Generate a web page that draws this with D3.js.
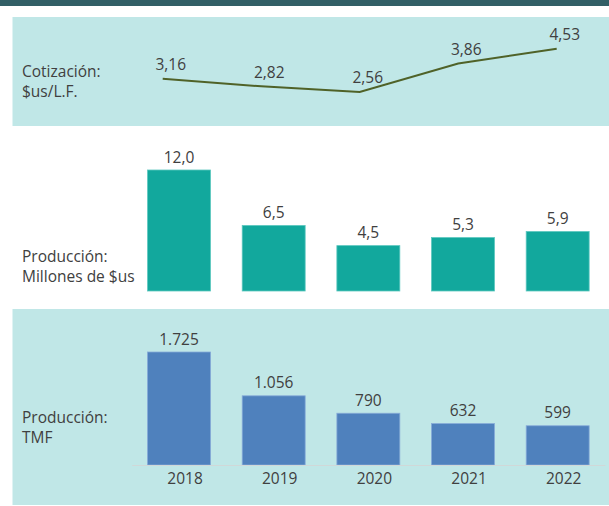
<!DOCTYPE html>
<html>
<head>
<meta charset="utf-8">
<script src="https://cdn.jsdelivr.net/npm/d3@7"></script>
<style>
    html, body { margin: 0; padding: 0; background: #fff; }
    svg { display: block; }
</style>
</head>
<body>
<svg id="vis" width="609" height="506" viewBox="0 0 609 506"></svg>
<script>
const years = ["2018", "2019", "2020", "2021", "2022"];
const cotizacion = [3.16, 2.82, 2.56, 3.86, 4.53];      // $us/L.F.
const produccionUsd = [12.0, 6.5, 4.5, 5.3, 5.9];       // Millones de $us
const produccionTmf = [1725, 1056, 790, 632, 599];      // TMF

(function () {
    const svg = d3.select("#vis");
    const W = 609, H = 506;
    const FONT = "'Open Sans', 'Noto Sans', sans-serif";
    const TEXT = "#404040";
    const PANEL = "#c0e7e7";

    const es = d3.formatLocale({ decimal: ",", thousands: ".", grouping: [3], currency: ["$", ""] });
    const f2 = es.format(".2f"), f1 = es.format(".1f"), f0 = es.format(",.0f");

    // === Backgrounds ===
    svg.append("rect").attr("x", 0).attr("y", 0).attr("width", W).attr("height", 6).attr("fill", "#325f66");
    svg.append("rect").attr("x", 12.5).attr("y", 17).attr("width", W - 12.5).attr("height", 109).attr("fill", PANEL);
    svg.append("rect").attr("x", 12.5).attr("y", 309).attr("width", W - 12.5).attr("height", 196).attr("fill", PANEL);

    function sideLabel(lines, y0) {
        const t = svg.append("text")
            .attr("x", 22)
            .attr("y", y0)
            .style("font", `15.5px ${FONT}`)
            .attr("fill", TEXT);
        lines.forEach((s, i) => t.append("tspan").attr("x", 22).attr("dy", i ? 20 : 0).text(s));
    }

    // === Cotización line ===
    const xp = d3.scalePoint().domain(years).range([162.7, 556.7]);
    const yl = d3.scaleLinear().domain([2, 5]).range([104.3, 38.4]);

    const lineData = years.map((yr, i) => ({ yr, v: cotizacion[i] }));
    svg.append("path")
        .datum(lineData)
        .attr("fill", "none")
        .attr("stroke", "#4f6228")
        .attr("stroke-width", 2)
        .attr("d", d3.line().x(d => xp(d.yr)).y(d => yl(d.v)));

    svg.append("g").selectAll("text").data(lineData).join("text")
        .attr("x", d => xp(d.yr) + 8)
        .attr("y", d => yl(d.v) - 8.5)
        .attr("text-anchor", "middle")
        .style("font", `15.5px ${FONT}`)
        .attr("fill", TEXT)
        .text(d => f2(d.v));

    sideLabel(["Cotización:", "$us/L.F."], 77);

    // === Bar charts share the band scale ===
    const xb = d3.scaleBand().domain(years).range([131.7, 605]).paddingInner(0.335).paddingOuter(0.1675);

    function bars(values, y, fill, stroke, fmt) {
        const data = years.map((yr, i) => ({ yr, v: values[i] }));
        const g = svg.append("g");
        g.selectAll("rect").data(data).join("rect")
            .attr("x", d => xb(d.yr))
            .attr("y", d => y(d.v))
            .attr("width", xb.bandwidth())
            .attr("height", d => y(0) - y(d.v))
            .attr("fill", fill)
            .attr("stroke", stroke)
            .attr("stroke-width", 0.8);
        g.selectAll("text").data(data).join("text")
            .attr("x", d => xb(d.yr) + xb.bandwidth() / 2)
            .attr("y", d => y(d.v) - 7.5)
            .attr("text-anchor", "middle")
            .style("font", `15.5px ${FONT}`)
            .attr("fill", TEXT)
            .text(d => fmt(d.v));
    }

    const yUsd = d3.scaleLinear().domain([0, 12]).range([291, 170]);
    bars(produccionUsd, yUsd, "#12a89d", "#5cc7bf", f1);
    sideLabel(["Producción:", "Millones de $us"], 261.7);

    const yTmf = d3.scaleLinear().domain([0, 1725]).range([465, 352]);
    bars(produccionTmf, yTmf, "#4f81bd", "#86aad8", f0);
    sideLabel(["Producción:", "TMF"], 423);

    // === Year axis ===
    const axis = svg.append("g")
        .attr("transform", `translate(0,${yTmf(0)})`)
        .call(d3.axisBottom(xb).tickSize(0).tickPadding(0));
    axis.select(".domain").attr("stroke", "#d0d8d8").attr("stroke-width", 1);
    axis.selectAll(".tick text")
        .attr("dx", 6)
        .attr("dy", 0)
        .attr("y", 19.3)
        .style("font", `15.5px ${FONT}`)
        .attr("fill", TEXT);
})();
</script>
</body>
</html>
